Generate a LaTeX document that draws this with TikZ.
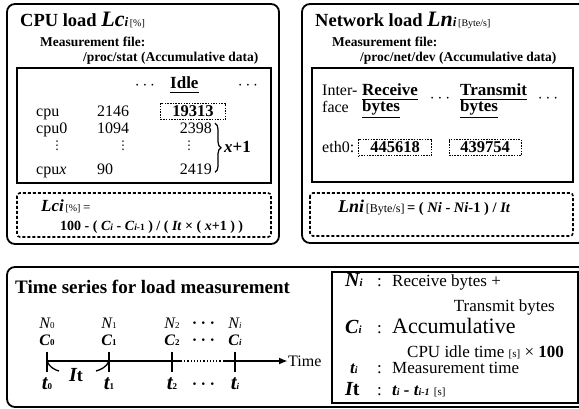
\documentclass[tikz,border=0pt]{standalone}
\usepackage{fontspec}
\setmainfont{Liberation Serif}
\newfontfamily\dotfont{DejaVu Sans}
\usepackage{tikz}
\usetikzlibrary{calc}
\usetikzlibrary{decorations.pathreplacing}
\usetikzlibrary{arrows.meta}
\newcommand{\fsz}[1]{\fontsize{#1}{#1}\selectfont}
\tikzstyle{mypanel} = [draw=black, line width=1.8pt, rounded corners=8pt]
\tikzstyle{mytable} = [draw=black, line width=1.2pt]
\tikzstyle{myformula} = [draw=black, line width=1.6pt, dash pattern=on 3pt off 2pt, rounded corners=3pt]
\tikzstyle{txt} = [inner sep=0pt, anchor=base west]
\tikzstyle{paneltitle} = [txt, font=\fsz{18.5}\bfseries]
\tikzstyle{fileinfo} = [txt, font=\fsz{13.5}\bfseries]
\tikzstyle{cell} = [txt, font=\fsz{16}]
\tikzstyle{vdot} = [inner sep=0pt, anchor=center, font=\fsz{12}\dotfont]
\tikzstyle{head} = [txt, font=\fsz{17}\bfseries]
\tikzstyle{valbox} = [draw=black, line width=1pt, dash pattern=on 1.5pt off 1.2pt, inner ysep=2.5pt, anchor=base, font=\fsz{16.5}\bfseries]
\tikzstyle{ulabel} = [txt, anchor=base, font=\fsz{16}\bfseries\itshape]
\tikzstyle{sym} = [txt, font=\fsz{20}\bfseries\itshape]
\tikzstyle{legtext} = [txt, font=\fsz{17}]
\tikzstyle{axisline} = [draw=black, line width=1.8pt]

\begin{document}
\begin{tikzpicture}[x=1pt, y=-1pt]
\useasboundingbox (0,0) rectangle (579,409);

% CPU load
\draw[mypanel] (7,4) rectangle (279,244);
\node[paneltitle] (cputitle) at (20,27) {CPU load {\fsz{22}\itshape Lc\fsz{13}i}{\fsz{10}\mdseries\,[\%]}};
\node[fileinfo] (cpufile) at (40,47) {Measurement file:};
\node[fileinfo] (cpupath) at (83,62) {/proc/stat (Accumulative data)};
\draw[mytable] (17,68) rectangle (271,183);
\node[cell, anchor=center] (cpudotsA) at (145,86) {$\cdots$};
\node[head] (idle) at (170,89) {Idle};
\draw[line width=1pt] ($(idle.base west)+(0,4)$) -- ($(idle.base east)+(0,4)$);
\node[cell, anchor=center] (cpudotsB) at (248,86) {$\cdots$};
\node[cell] (cpu) at (36,117) {cpu};
\node[cell] (cpusum) at (97,117) {2146};
\node[valbox, minimum width=65pt] (cpuidle) at (193,117) {19313};
\node[cell] (cpu0) at (36,134) {cpu0};
\node[cell] (cpu0sum) at (97,134) {1094};
\node[cell, anchor=base east] (cpu0idle) at (212,134) {2398};
\node[vdot] (vdotsA) at (57,146) {⋮};
\node[vdot] (vdotsB) at (123,146) {⋮};
\node[vdot] (vdotsC) at (189,146) {⋮};
\node[cell] (cpux) at (36,175) {cpu\textit{x}};
\node[cell] (cpuxsum) at (97,175) {90};
\node[cell, anchor=base east] (cpuxidle) at (212,175) {2419};
\draw[decorate, decoration={brace, amplitude=6pt}, line width=1.2pt]
    ($(cpu0idle.north east)+(3,0)$) -- ($(cpuxidle.south east)+(3,-3)$);
\node[txt, font=\fsz{17}\bfseries] (xplus) at (224,153) {\textit{x}+1};
\draw[myformula] (17,193) rectangle (271,237);
\node[txt] (cpuformA) at (41,212) {{\fsz{17}\bfseries\itshape Lci}\,{\fsz{10}[\%]}~{\fsz{13}=}};
\node[txt, font=\fsz{14}\bfseries] (cpuformB) at (60,230)
    {100 - ( \textit{C}{\fsz{9.5}\textit{i}} - \textit{C}{\fsz{9.5}\textit{i}-1} ) / ( \textit{It} × ( \textit{x}+1 ) )};

% Network load
\draw[mypanel] (302,4) rectangle (586,243);
\node[paneltitle] (nettitle) at (315,27) {Network load {\fsz{22}\itshape Ln\fsz{13}i}{\fsz{10}\mdseries\,[Byte/s]}};
\node[fileinfo] (netfile) at (332,47) {Measurement file:};
\node[fileinfo] (netpath) at (360,62) {/proc/net/dev (Accumulative data)};
\draw[mytable] (312,68) rectangle (573,182);
\node[cell] (inter) at (322,96) {Inter-};
\node[cell] (face) at (322,113) {face};
\node[head] (recv) at (362,96) {Receive};
\node[head] (recvb) at (362,112) {bytes};
\node[cell, anchor=center] (netdotsA) at (440,99) {$\cdots$};
\node[head] (trans) at (460,96) {Transmit};
\node[head] (transb) at (460,112) {bytes};
\node[cell, anchor=center] (netdotsB) at (548,99) {$\cdots$};
\foreach \h/\d in {recv/4, recvb/5.5, trans/4, transb/5.5}
    \draw[line width=1pt] ($(\h.base west)+(0,\d)$) -- ($(\h.base east)+(0,\d)$);
\node[cell] (eth) at (322,153) {eth0:};
\node[valbox, minimum width=73pt] (rxval) at (395,153) {445618};
\node[valbox, minimum width=72pt] (txval) at (485,153) {439754};
\draw[myformula] (310,193) rectangle (573,236);
\node[txt] (netform) at (338,213) {{\fsz{18}\bfseries\itshape Lni}\,{\fsz{12}[Byte/s]}~{\fsz{14.5}\bfseries= ( \textit{Ni} - \textit{Ni}-1 ) / \textit{It}}};

% Time series
\draw[mypanel] (7,267) rectangle (586,407);
\node[paneltitle, font=\fsz{19}\bfseries] (tstitle) at (15,294) {Time series for load measurement};
\coordinate (tick0) at (47,361);
\coordinate (tick1) at (109,361);
\coordinate (tick2) at (172,361);
\coordinate (ticki) at (235,361);
\foreach \c/\s in {tick0/0, tick1/1, tick2/2, ticki/\textit{i}} {
    \node[ulabel, font=\fsz{16}\itshape] (N\c) at ($(\c)+(0,-33)$) {N{\fsz{9}\upshape\s}};
    \node[ulabel] (C\c) at ($(\c)+(0,-16)$) {C{\fsz{9}\upshape\s}};
    \node[ulabel, font=\fsz{21}\bfseries\itshape] (T\c) at ($(\c)+(0,28)$) {t{\fsz{9}\upshape\s}};
    \draw[axisline] ($(\c)+(0,-9)$) -- ($(\c)+(0,11)$);
}
\foreach \y/\n in {-38/Ndots, -21/Cdots, 23/Tdots}
    \node[cell, anchor=center, font=\fsz{16}\boldmath] (\n) at ($(tick2)!0.5!(ticki)+(0,\y)$) {$\cdots$};
\node[legtext, anchor=west, font=\fsz{16}] (timelbl) at (288,361) {Time};
\coordinate (solidend) at (181,361);
\coordinate (dotend) at (224,361);
\draw[axisline] (tick0) -- (solidend);
\draw[line width=1.2pt, dotted] (solidend) -- (dotend);
\draw[axisline, -{Latex[length=9pt, width=7pt]}] (dotend) -- (timelbl.west);
\coordinate (arcL) at (59,371);
\coordinate (arcR) at (96,371);
\draw[line width=1.3pt] (tick0) .. controls +(2,6) and +(-4,-1) .. (arcL);
\draw[line width=1.3pt] (tick1) .. controls +(-2,6) and +(4,-1) .. (arcR);
\node[txt, anchor=base] (itlbl) at (76,381) {{\fsz{20}\bfseries\itshape I}{\fsz{18}\bfseries t}};

% legend
\draw[mytable] (332,272) rectangle (578,403);
\node[sym] (symN) at (345,287) {N{\fsz{11}i}};
\node[legtext] (colN) at (377,287) {:};
\node[legtext] (descN) at (392,287) {Receive bytes +};
\node[legtext, anchor=base east] (descNb) at (555,312) {Transmit bytes};
\node[sym] (symC) at (345,333) {C{\fsz{11}i}};
\node[legtext] (colC) at (377,333) {:};
\node[legtext, font=\fsz{22}] (descC) at (392,333) {Accumulative};
\node[legtext] (descCb) at (407,357) {CPU idle time {\fsz{11}[s]} × \textbf{100}};
\node[sym, font=\fsz{17}\bfseries\itshape] (symT) at (350,373) {t{\fsz{10}i}};
\node[legtext] (colT) at (377,373) {:};
\node[legtext] (descT) at (392,373) {Measurement time};
\node[sym] (symI) at (345,395) {I{\upshape t}};
\node[legtext] (colI) at (377,395) {:};
\node[legtext] (descI) at (392,395) {{\bfseries\itshape t{\fsz{10}i} - t{\fsz{10}i-1}}~{\fsz{11}[s]}};
\end{tikzpicture}
\end{document}
